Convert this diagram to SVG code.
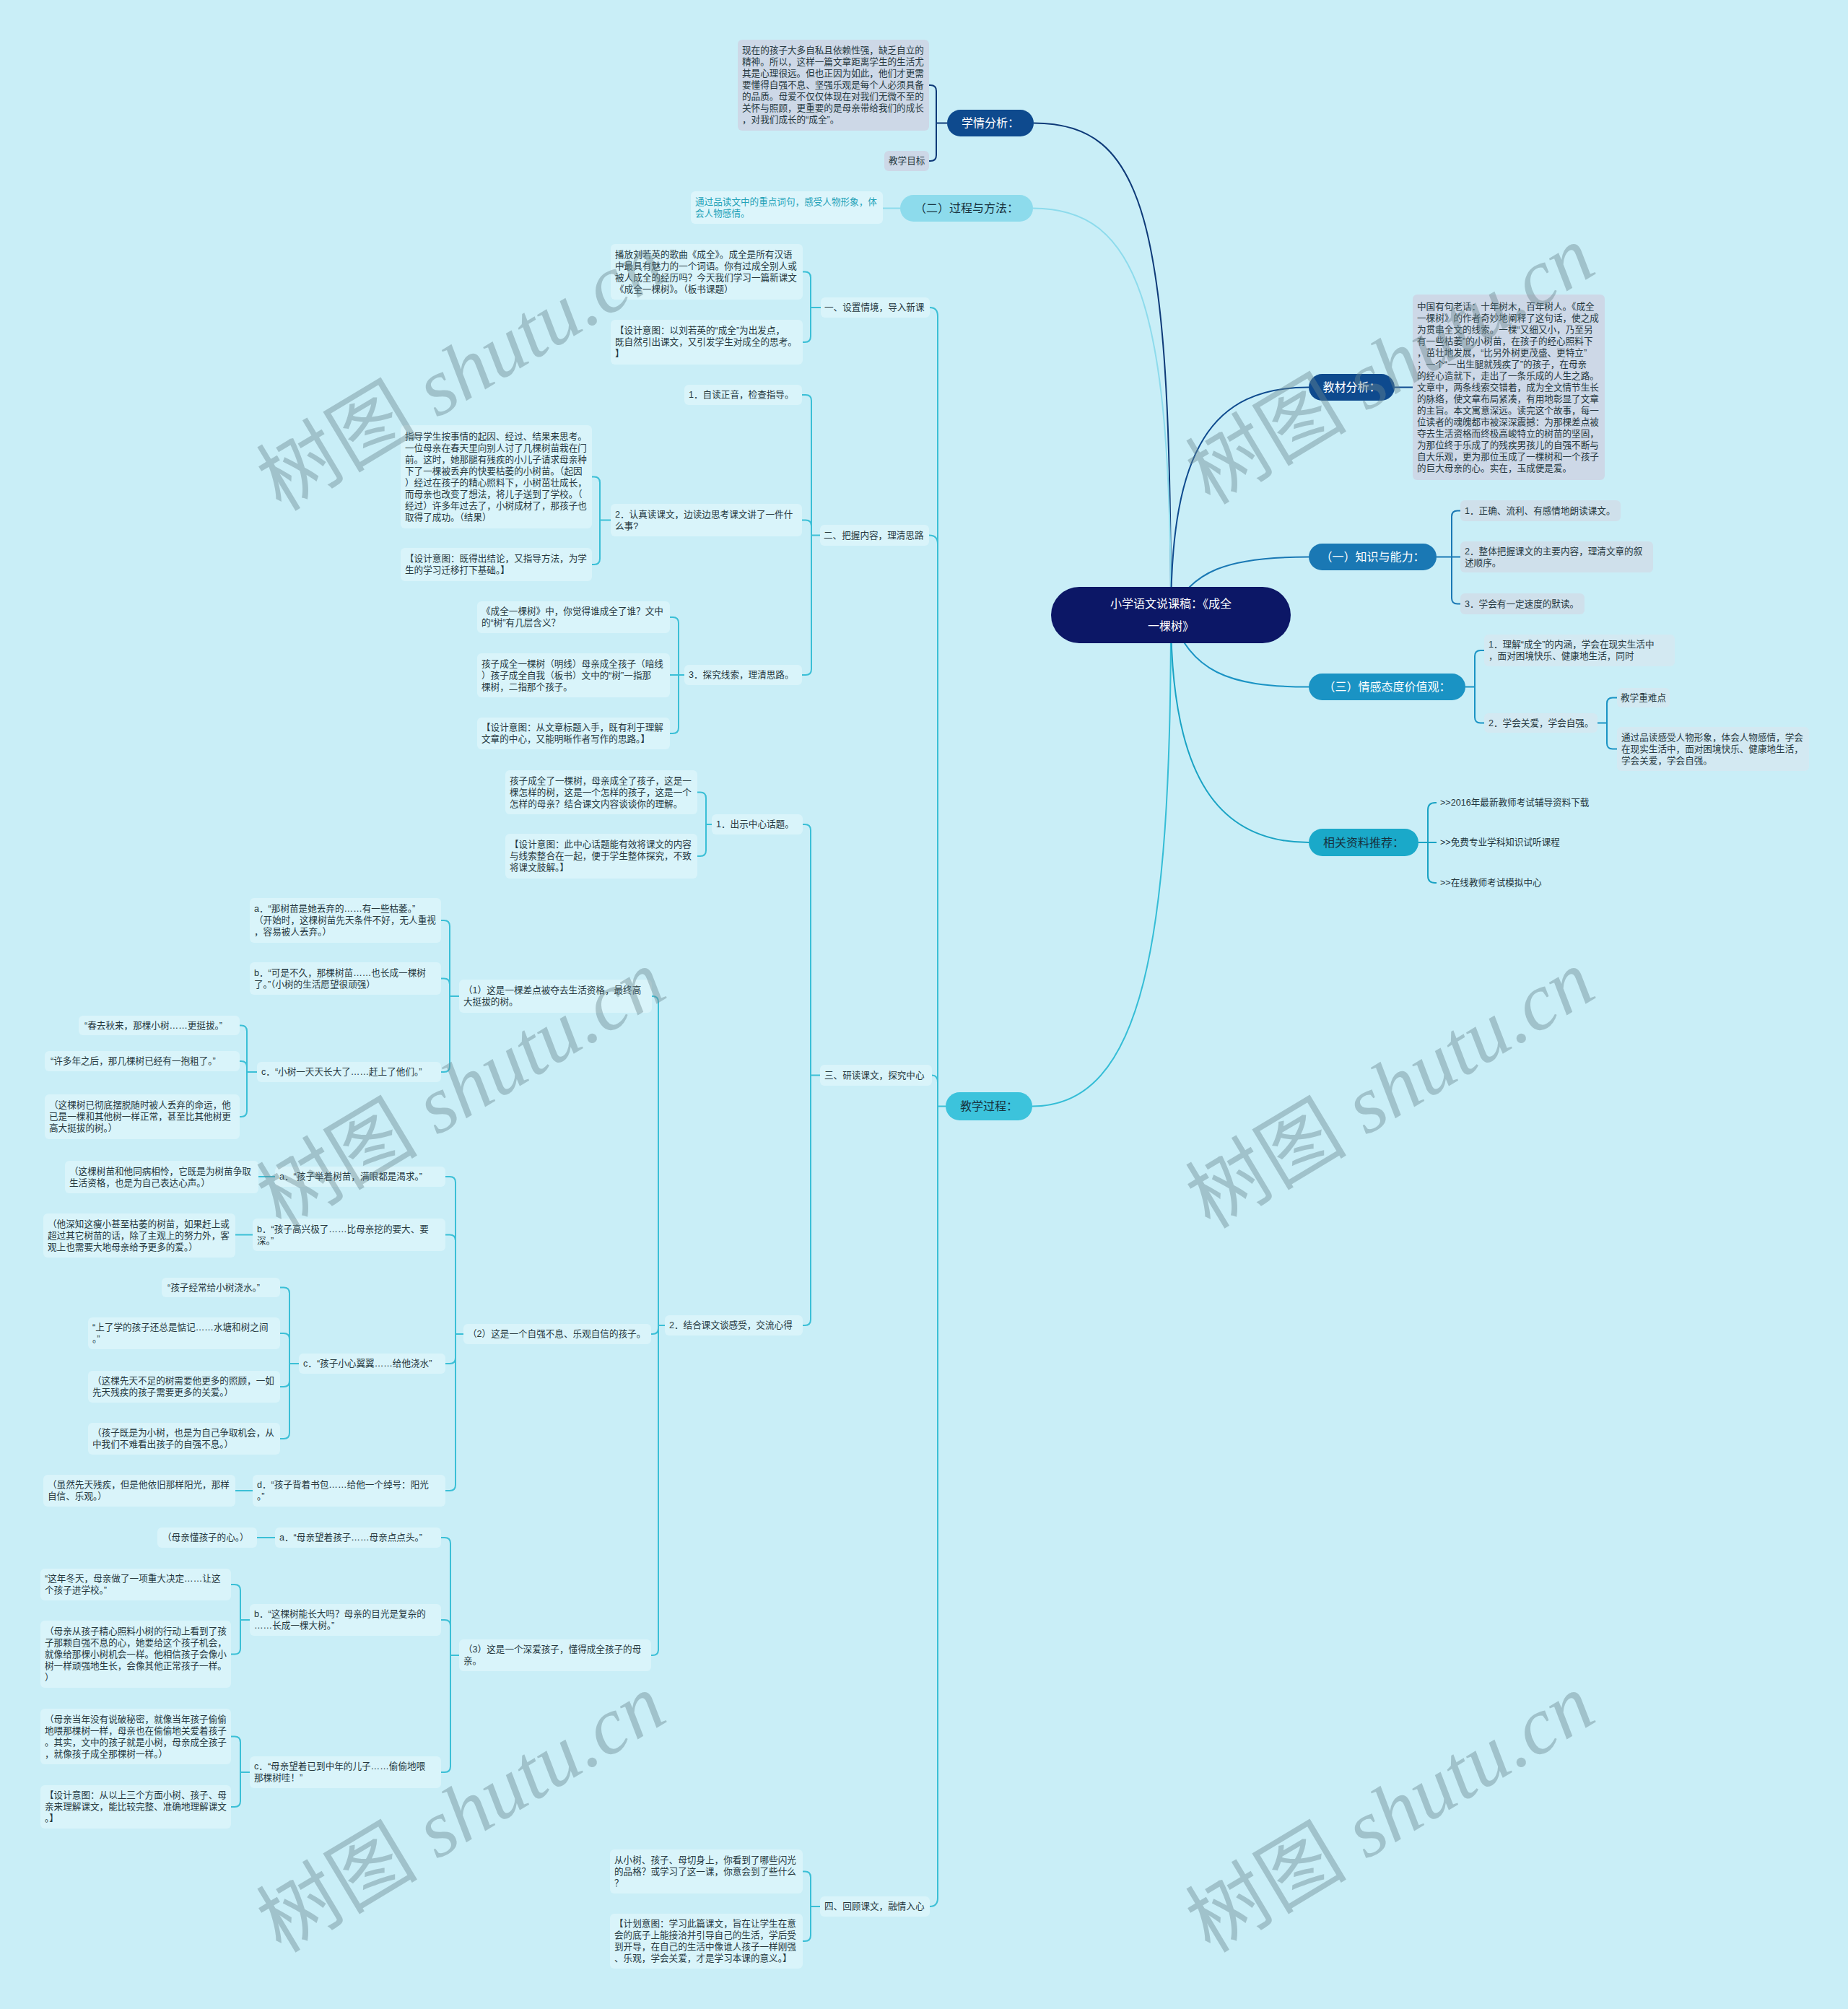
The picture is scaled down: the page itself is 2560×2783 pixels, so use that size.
<svg xmlns="http://www.w3.org/2000/svg" width="2560" height="2783" viewBox="0 0 2560 2783">
<style>
.t{font-family:"Liberation Sans","Noto Sans CJK SC",sans-serif;font-size:12.6px;fill:#26383f;dominant-baseline:central}
.tc{font-family:"Liberation Sans","Noto Sans CJK SC",sans-serif;font-size:12.6px;fill:#23a2b8;dominant-baseline:central}
.n1{font-family:"Liberation Sans","Noto Sans CJK SC",sans-serif;font-size:16px;dominant-baseline:central;text-anchor:middle}
.w{fill:#ffffff}
.d{fill:#17323e}
.bt{fill:#d9f4fa}
.bg{fill:#cdd8e7}
.bk{fill:#cfe0eb}
.be{fill:#d3e9f2}
.c{fill:none;stroke-width:2}
.ct{stroke:#3bbfd6}
.wm{font-family:"Liberation Serif","Noto Sans CJK SC",serif;font-size:112px;fill:#6a878f;opacity:0.42}
</style>
<rect x="0" y="0" width="2560" height="2783" fill="#c9eef7"/>

<g id="connectors">
<path class="c" stroke="#0e3a78" stroke-width="2.5" d="M1432,170.5 C1585,170.5 1622,300 1622,852"/>
<path class="c" stroke="#8ddbec" stroke-width="2.5" d="M1431,288.5 C1575,288.5 1622,420 1622,852"/>
<path class="c" stroke="#35bdd6" stroke-width="2.5" d="M1430,1532.5 C1585,1532.5 1622,1300 1622,852"/>
<path class="c" stroke="#0e4a8e" stroke-width="2.5" d="M1622,852 C1622,620 1680,536.5 1813,536.5"/>
<path class="c" stroke="#1a78b4" stroke-width="2.5" d="M1622,852 C1650,790 1700,771.5 1813,771.5"/>
<path class="c" stroke="#1a93c4" stroke-width="2.5" d="M1622,852 C1650,930 1700,951.5 1813,951.5"/>
<path class="c" stroke="#1aa3c4" stroke-width="2.5" d="M1622,852 C1622,1080 1690,1167 1813,1167"/>

<path class="c" stroke="#0e3a78" d="M1312,170.5 H1297 V126 Q1297,118 1289,118 H1287 M1312,170.5 H1297 V215 Q1297,223 1289,223 H1287"/>
<path class="c" stroke="#8ddbec" d="M1247,288.5 H1223"/>

<path class="c" stroke="#0e4a8e" d="M1932,536.5 H1957"/>
<path class="c" stroke="#1a78b4" d="M1990,771.5 H2011 V715.5 Q2011,707.5 2019,707.5 H2023 M1990,771.5 H2023 M1990,771.5 H2011 V828.5 Q2011,836.5 2019,836.5 H2023"/>
<path class="c" stroke="#1a93c4" d="M2030,951.5 H2043 V909 Q2043,901 2051,901 H2056 M2030,951.5 H2043 V993.5 Q2043,1001.5 2051,1001.5 H2056"/>
<path class="c" stroke="#1a93c4" d="M2213,1001.5 H2226 V974.5 Q2226,966.5 2234,966.5 H2240 M2213,1001.5 H2226 V1029.5 Q2226,1037.5 2234,1037.5 H2240"/>
<path class="c" stroke="#1aa3c4" d="M1965,1167 H1978 V1122 Q1978,1112 1988,1112 H1990 M1965,1167 H1990 M1965,1167 H1978 V1213 Q1978,1223 1988,1223 H1990"/>

<g class="ct">
<path class="c" d="M1310,1532.5 H1299 V438 Q1299,426 1288,426 M1310,1532.5 H1299 V753.5 Q1299,741.5 1287,741.5 M1310,1532.5 H1299 V1499.5 Q1299,1489.5 1291,1489.5 M1310,1532.5 H1299 V2629 Q1299,2641 1288,2641"/>
<path class="c" d="M1137,426 H1123 V384.5 Q1123,376.5 1115,376.5 H1112 M1137,426 H1123 V466 Q1123,474 1115,474 H1112"/>
<path class="c" d="M1136,741.5 H1124 V555 Q1124,547 1116,547 H1111 M1136,741.5 H1124 V728.5 Q1124,720.5 1116,720.5 H1111 M1136,741.5 H1124 V927 Q1124,935 1116,935 H1111"/>
<path class="c" d="M846,720.5 H831 V668.5 Q831,660.5 823,660.5 H820 M846,720.5 H831 V774 Q831,782 823,782 H820"/>
<path class="c" d="M948,935 H940 V863 Q940,855 932,855 H928 M948,935 H928 M948,935 H940 V1008 Q940,1016 932,1016 H928"/>
<path class="c" d="M1136,1489.5 H1123 V1150 Q1123,1142 1115,1142 H1112 M1136,1489.5 H1123 V1828 Q1123,1836 1115,1836 H1112"/>
<path class="c" d="M986,1142 H978 V1105.5 Q978,1097.5 970,1097.5 H966 M986,1142 H978 V1178 Q978,1186 970,1186 H966"/>
<path class="c" d="M921,1836 H912 V1388 Q912,1380 904,1380 H903 M921,1836 H912 V1840 Q912,1848 904,1848 H902 M921,1836 H912 V2285 Q912,2293 904,2293 H902"/>
<path class="c" d="M636,1380 H623 V1283 Q623,1275 615,1275 H611 M636,1380 H623 V1363.5 Q623,1355.5 615,1355.5 H611 M636,1380 H623 V1477 Q623,1485 615,1485 H611"/>
<path class="c" d="M356,1485 H342 V1428.5 Q342,1420.5 334,1420.5 H332 M356,1485 H342 V1478 Q342,1470 334,1470 H332 M356,1485 H342 V1539 Q342,1547 334,1547 H332"/>
<path class="c" d="M642,1848 H631 V1638 Q631,1630 623,1630 H617 M642,1848 H631 V1718.5 Q631,1710.5 623,1710.5 H617 M642,1848 H631 V1881 Q631,1889 623,1889 H617 M642,1848 H631 V2057 Q631,2065 623,2065 H617"/>
<path class="c" d="M381,1630 H358 M350,1710.5 H326 M350,2065 H326"/>
<path class="c" d="M414,1889 H401 V1791.5 Q401,1783.5 393,1783.5 H388 M414,1889 H401 V1855 Q401,1847 393,1847 H388 M414,1889 H401 V1913 Q401,1921 393,1921 H388 M414,1889 H401 V1985 Q401,1993 393,1993 H388"/>
<path class="c" d="M636,2293 H624 V2138 Q624,2130 616,2130 H611 M636,2293 H624 V2252 Q624,2244 616,2244 H611 M636,2293 H624 V2447 Q624,2455 616,2455 H611"/>
<path class="c" d="M381,2130 H356"/>
<path class="c" d="M346,2244 H333 V2203 Q333,2195 325,2195 H320 M346,2244 H333 V2283.5 Q333,2291.5 325,2291.5 H320"/>
<path class="c" d="M346,2455 H333 V2413.5 Q333,2405.5 325,2405.5 H320 M346,2455 H333 V2495 Q333,2503 325,2503 H320"/>
<path class="c" d="M1136,2641 H1123 V2600.5 Q1123,2592.5 1115,2592.5 H1112 M1136,2641 H1123 V2681 Q1123,2689 1115,2689 H1112"/>
</g>
</g>

<g id="root">
<rect x="1456" y="813" width="332" height="78" rx="39" fill="#0c1766"/>
<text class="n1 w" font-size="22" x="1622"><tspan x="1622" y="836">小学语文说课稿：《成全</tspan><tspan x="1622" y="867">一棵树》</tspan></text>
</g>

<g id="xueqing">
<rect x="1312" y="152" width="120" height="37" rx="18.5" fill="#0e4a8e"/>
<text class="n1 w" x="1372" y="170.5">学情分析：</text>
</g>
<g id="xueqing-1"><rect class="bg" x="1022" y="55" width="265" height="126" rx="6"/>
<text class="t" x="1028" y="70"><tspan x="1028">现在的孩子大多自私且依赖性强，缺乏自立的</tspan><tspan x="1028" dy="16">精神。所以，这样一篇文章距离学生的生活尤</tspan><tspan x="1028" dy="16">其是心理很远。但也正因为如此，他们才更需</tspan><tspan x="1028" dy="16">要懂得自强不息、坚强乐观是每个人必须具备</tspan><tspan x="1028" dy="16">的品质。母爱不仅仅体现在对我们无微不至的</tspan><tspan x="1028" dy="16">关怀与照顾，更重要的是母亲带给我们的成长</tspan><tspan x="1028" dy="16">，对我们成长的“成全”。</tspan></text></g>
<g id="xueqing-2"><rect class="bg" x="1225" y="209" width="62" height="28" rx="6"/><text class="t" x="1231" y="223">教学目标</text></g>

<g id="guocheng">
<rect x="1247" y="270" width="184" height="37" rx="18.5" fill="#8ddbec"/>
<text class="n1 d" x="1339" y="288.5">（二）过程与方法：</text>
</g>
<g id="guocheng-1"><rect x="957" y="265" width="266" height="45" rx="6" fill="#dcf5fb"/>
<text class="tc" x="963" y="279.5"><tspan x="963">通过品读文中的重点词句，感受人物形象，体</tspan><tspan x="963" dy="16">会人物感情。</tspan></text></g>

<g id="jiaoxue">
<rect x="1310" y="1513" width="120" height="39" rx="19.5" fill="#3cc3dc"/>
<text class="n1 d" x="1370" y="1532.5">教学过程：</text>
</g>

<g id="s1"><rect class="bt" x="1137" y="412" width="151" height="28" rx="6"/><text class="t" x="1142" y="426">一、设置情境，导入新课</text></g>
<g id="s1-1"><rect class="bt" x="846" y="338" width="266" height="77" rx="6"/>
<text class="t" x="852" y="352.5"><tspan x="852">播放刘若英的歌曲《成全》。成全是所有汉语</tspan><tspan x="852" dy="16">中最具有魅力的一个词语。你有过成全别人或</tspan><tspan x="852" dy="16">被人成全的经历吗？今天我们学习一篇新课文</tspan><tspan x="852" dy="16">《成全一棵树》。（板书课题）</tspan></text></g>
<g id="s1-2"><rect class="bt" x="846" y="443" width="266" height="62" rx="6"/>
<text class="t" x="852" y="458"><tspan x="852">【设计意图：以刘若英的“成全”为出发点，</tspan><tspan x="852" dy="16">既自然引出课文，又引发学生对成全的思考。</tspan><tspan x="852" dy="16">】</tspan></text></g>

<g id="s2"><rect class="bt" x="1136" y="727" width="151" height="29" rx="6"/><text class="t" x="1141" y="741.5">二、把握内容，理清思路</text></g>
<g id="s2-1"><rect class="bt" x="948" y="533" width="163" height="28" rx="6"/><text class="t" x="954" y="547">1．自读正音，检查指导。</text></g>
<g id="s2-2"><rect class="bt" x="846" y="698" width="265" height="45" rx="6"/>
<text class="t" x="852" y="712.5"><tspan x="852">2．认真读课文，边读边思考课文讲了一件什</tspan><tspan x="852" dy="16">么事?</tspan></text></g>
<g id="s2-2a"><rect class="bt" x="555" y="589" width="265" height="143" rx="6"/>
<text class="t" x="561" y="604.5"><tspan x="561">指导学生按事情的起因、经过、结果来思考。</tspan><tspan x="561" dy="16">一位母亲在春天里向别人讨了几棵树苗栽在门</tspan><tspan x="561" dy="16">前。这时，她那腿有残疾的小儿子请求母亲种</tspan><tspan x="561" dy="16">下了一棵被丢弃的快要枯萎的小树苗。（起因</tspan><tspan x="561" dy="16">）经过在孩子的精心照料下，小树茁壮成长，</tspan><tspan x="561" dy="16">而母亲也改变了想法，将儿子送到了学校。（</tspan><tspan x="561" dy="16">经过）许多年过去了，小树成材了，那孩子也</tspan><tspan x="561" dy="16">取得了成功。（结果）</tspan></text></g>
<g id="s2-2b"><rect class="bt" x="555" y="759" width="265" height="46" rx="6"/>
<text class="t" x="561" y="774"><tspan x="561">【设计意图：既得出结论，又指导方法，为学</tspan><tspan x="561" dy="16">生的学习迁移打下基础。】</tspan></text></g>
<g id="s2-3"><rect class="bt" x="948" y="921" width="163" height="28" rx="6"/><text class="t" x="954" y="935">3．探究线索，理清思路。</text></g>
<g id="s2-3a"><rect class="bt" x="661" y="833" width="267" height="44" rx="6"/>
<text class="t" x="667" y="847"><tspan x="667">《成全一棵树》中，你觉得谁成全了谁？文中</tspan><tspan x="667" dy="16">的“树”有几层含义？</tspan></text></g>
<g id="s2-3b"><rect class="bt" x="661" y="905" width="267" height="61" rx="6"/>
<text class="t" x="667" y="919.5"><tspan x="667">孩子成全一棵树（明线）母亲成全孩子（暗线</tspan><tspan x="667" dy="16">）孩子成全自我（板书）文中的“树”一指那</tspan><tspan x="667" dy="16">棵树，二指那个孩子。</tspan></text></g>
<g id="s2-3c"><rect class="bt" x="661" y="994" width="267" height="44" rx="6"/>
<text class="t" x="667" y="1008"><tspan x="667">【设计意图：从文章标题入手，既有利于理解</tspan><tspan x="667" dy="16">文章的中心，又能明晰作者写作的思路。】</tspan></text></g>

<g id="s3"><rect class="bt" x="1136" y="1475" width="155" height="29" rx="6"/><text class="t" x="1142" y="1489.5">三、研读课文，探究中心</text></g>
<g id="s3-1"><rect class="bt" x="986" y="1128" width="126" height="28" rx="6"/><text class="t" x="992" y="1142">1．出示中心话题。</text></g>
<g id="s3-1a"><rect class="bt" x="700" y="1067" width="266" height="61" rx="6"/>
<text class="t" x="706" y="1081.5"><tspan x="706">孩子成全了一棵树，母亲成全了孩子，这是一</tspan><tspan x="706" dy="16">棵怎样的树，这是一个怎样的孩子，这是一个</tspan><tspan x="706" dy="16">怎样的母亲？结合课文内容谈谈你的理解。</tspan></text></g>
<g id="s3-1b"><rect class="bt" x="700" y="1155" width="266" height="62" rx="6"/>
<text class="t" x="706" y="1170"><tspan x="706">【设计意图：此中心话题能有效将课文的内容</tspan><tspan x="706" dy="16">与线索整合在一起，便于学生整体探究，不致</tspan><tspan x="706" dy="16">将课文肢解。】</tspan></text></g>
<g id="s3-2"><rect class="bt" x="921" y="1822" width="191" height="28" rx="6"/><text class="t" x="927" y="1836">2．结合课文谈感受，交流心得</text></g>

<g id="p1"><rect class="bt" x="636" y="1357" width="267" height="46" rx="6"/>
<text class="t" x="642" y="1372"><tspan x="642">（1）这是一棵差点被夺去生活资格，最终高</tspan><tspan x="642" dy="16">大挺拔的树。</tspan></text></g>
<g id="p1-a"><rect class="bt" x="346" y="1244" width="265" height="62" rx="6"/>
<text class="t" x="352" y="1259"><tspan x="352">a．“那树苗是她丢弃的……有一些枯萎。”</tspan><tspan x="352" dy="16">（开始时，这棵树苗先天条件不好，无人重视</tspan><tspan x="352" dy="16">，容易被人丢弃。）</tspan></text></g>
<g id="p1-b"><rect class="bt" x="346" y="1333" width="265" height="45" rx="6"/>
<text class="t" x="352" y="1347.5"><tspan x="352">b．“可是不久，那棵树苗……也长成一棵树</tspan><tspan x="352" dy="16">了。”（小树的生活愿望很顽强）</tspan></text></g>
<g id="p1-c"><rect class="bt" x="356" y="1471" width="255" height="28" rx="6"/><text class="t" x="362" y="1485">c．“小树一天天长大了……赶上了他们。”</text></g>
<g id="p1-c1"><rect class="bt" x="109" y="1407" width="223" height="27" rx="6"/><text class="t" x="117" y="1420.5">“春去秋来，那棵小树……更挺拔。”</text></g>
<g id="p1-c2"><rect class="bt" x="62" y="1456" width="270" height="28" rx="6"/><text class="t" x="70" y="1470">“许多年之后，那几棵树已经有一抱粗了。”</text></g>
<g id="p1-c3"><rect class="bt" x="62" y="1516" width="270" height="62" rx="6"/>
<text class="t" x="68" y="1531"><tspan x="68">（这棵树已彻底摆脱随时被人丢弃的命运，他</tspan><tspan x="68" dy="16">已是一棵和其他树一样正常，甚至比其他树更</tspan><tspan x="68" dy="16">高大挺拔的树。）</tspan></text></g>

<g id="p2"><rect class="bt" x="642" y="1834" width="260" height="28" rx="6"/><text class="t" x="648" y="1848">（2）这是一个自强不息、乐观自信的孩子。</text></g>
<g id="p2-a"><rect class="bt" x="381" y="1616" width="236" height="28" rx="6"/><text class="t" x="387" y="1630">a．“孩子举着树苗，满眼都是渴求。”</text></g>
<g id="p2-a1"><rect class="bt" x="90" y="1608" width="268" height="45" rx="6"/>
<text class="t" x="96" y="1622.5"><tspan x="96">（这棵树苗和他同病相怜，它既是为树苗争取</tspan><tspan x="96" dy="16">生活资格，也是为自己表达心声。）</tspan></text></g>
<g id="p2-b"><rect class="bt" x="350" y="1688" width="267" height="45" rx="6"/>
<text class="t" x="356" y="1702.5"><tspan x="356">b．“孩子高兴极了……比母亲挖的要大、要</tspan><tspan x="356" dy="16">深。”</tspan></text></g>
<g id="p2-b1"><rect class="bt" x="60" y="1681" width="266" height="61" rx="6"/>
<text class="t" x="66" y="1695.5"><tspan x="66">（他深知这瘦小甚至枯萎的树苗，如果赶上或</tspan><tspan x="66" dy="16">超过其它树苗的话，除了主观上的努力外，客</tspan><tspan x="66" dy="16">观上也需要大地母亲给予更多的爱。）</tspan></text></g>
<g id="p2-c"><rect class="bt" x="414" y="1875" width="203" height="28" rx="6"/><text class="t" x="420" y="1889">c．“孩子小心翼翼……给他浇水”</text></g>
<g id="p2-c1"><rect class="bt" x="224" y="1770" width="164" height="27" rx="6"/><text class="t" x="232" y="1783.5">“孩子经常给小树浇水。”</text></g>
<g id="p2-c2"><rect class="bt" x="122" y="1825" width="266" height="44" rx="6"/>
<text class="t" x="128" y="1839"><tspan x="128">“上了学的孩子还总是惦记……水塘和树之间</tspan><tspan x="128" dy="16">。”</tspan></text></g>
<g id="p2-c3"><rect class="bt" x="122" y="1899" width="266" height="44" rx="6"/>
<text class="t" x="128" y="1913"><tspan x="128">（这棵先天不足的树需要他更多的照顾，一如</tspan><tspan x="128" dy="16">先天残疾的孩子需要更多的关爱。）</tspan></text></g>
<g id="p2-c4"><rect class="bt" x="122" y="1971" width="266" height="44" rx="6"/>
<text class="t" x="128" y="1985"><tspan x="128">（孩子既是为小树，也是为自己争取机会，从</tspan><tspan x="128" dy="16">中我们不难看出孩子的自强不息。）</tspan></text></g>
<g id="p2-d"><rect class="bt" x="350" y="2043" width="267" height="44" rx="6"/>
<text class="t" x="356" y="2057"><tspan x="356">d．“孩子背着书包……给他一个绰号：阳光</tspan><tspan x="356" dy="16">。”</tspan></text></g>
<g id="p2-d1"><rect class="bt" x="60" y="2043" width="266" height="44" rx="6"/>
<text class="t" x="66" y="2057"><tspan x="66">（虽然先天残疾，但是他依旧那样阳光，那样</tspan><tspan x="66" dy="16">自信、乐观。）</tspan></text></g>

<g id="p3"><rect class="bt" x="636" y="2271" width="266" height="44" rx="6"/>
<text class="t" x="642" y="2285"><tspan x="642">（3）这是一个深爱孩子，懂得成全孩子的母</tspan><tspan x="642" dy="16">亲。</tspan></text></g>
<g id="p3-a"><rect class="bt" x="381" y="2116" width="230" height="28" rx="6"/><text class="t" x="387" y="2130">a．“母亲望着孩子……母亲点点头。”</text></g>
<g id="p3-a1"><rect class="bt" x="218" y="2116" width="138" height="28" rx="6"/><text class="t" x="225" y="2130">（母亲懂孩子的心。）</text></g>
<g id="p3-b"><rect class="bt" x="346" y="2222" width="265" height="44" rx="6"/>
<text class="t" x="352" y="2236"><tspan x="352">b．“这棵树能长大吗？母亲的目光是复杂的</tspan><tspan x="352" dy="16">……长成一棵大树。”</tspan></text></g>
<g id="p3-b1"><rect class="bt" x="56" y="2173" width="264" height="44" rx="6"/>
<text class="t" x="62" y="2187"><tspan x="62">“这年冬天，母亲做了一项重大决定……让这</tspan><tspan x="62" dy="16">个孩子进学校。”</tspan></text></g>
<g id="p3-b2"><rect class="bt" x="56" y="2245" width="264" height="93" rx="6"/>
<text class="t" x="62" y="2259.5"><tspan x="62">（母亲从孩子精心照料小树的行动上看到了孩</tspan><tspan x="62" dy="16">子那颗自强不息的心，她要给这个孩子机会，</tspan><tspan x="62" dy="16">就像给那棵小树机会一样。他相信孩子会像小</tspan><tspan x="62" dy="16">树一样顽强地生长，会像其他正常孩子一样。</tspan><tspan x="62" dy="16">）</tspan></text></g>
<g id="p3-c"><rect class="bt" x="346" y="2433" width="265" height="44" rx="6"/>
<text class="t" x="352" y="2447"><tspan x="352">c．“母亲望着已到中年的儿子……偷偷地喂</tspan><tspan x="352" dy="16">那棵树哇！”</tspan></text></g>
<g id="p3-c1"><rect class="bt" x="56" y="2367" width="264" height="77" rx="6"/>
<text class="t" x="62" y="2381.5"><tspan x="62">（母亲当年没有说破秘密，就像当年孩子偷偷</tspan><tspan x="62" dy="16">地喂那棵树一样，母亲也在偷偷地关爱着孩子</tspan><tspan x="62" dy="16">。其实，文中的孩子就是小树，母亲成全孩子</tspan><tspan x="62" dy="16">，就像孩子成全那棵树一样。）</tspan></text></g>
<g id="p3-c2"><rect class="bt" x="56" y="2473" width="264" height="60" rx="6"/>
<text class="t" x="62" y="2487"><tspan x="62">【设计意图：从以上三个方面小树、孩子、母</tspan><tspan x="62" dy="16">亲来理解课文，能比较完整、准确地理解课文</tspan><tspan x="62" dy="16">。】</tspan></text></g>

<g id="s4"><rect class="bt" x="1136" y="2627" width="152" height="28" rx="6"/><text class="t" x="1142" y="2641">四、回顾课文，融情入心</text></g>
<g id="s4-1"><rect class="bt" x="845" y="2562" width="267" height="61" rx="6"/>
<text class="t" x="851" y="2576.5"><tspan x="851">从小树、孩子、母切身上，你看到了哪些闪光</tspan><tspan x="851" dy="16">的品格？或学习了这一课，你意会到了些什么</tspan><tspan x="851" dy="16">？</tspan></text></g>
<g id="s4-2"><rect class="bt" x="845" y="2651" width="267" height="76" rx="6"/>
<text class="t" x="851" y="2665"><tspan x="851">【计划意图：学习此篇课文，旨在让学生在意</tspan><tspan x="851" dy="16">会的底子上能接洽并引导自己的生活，学后受</tspan><tspan x="851" dy="16">到开导，在自己的生活中像谁人孩子一样刚强</tspan><tspan x="851" dy="16">、乐观，学会关爱，才是学习本课的意义。】</tspan></text></g>

<g id="jiaocai">
<rect x="1813" y="518" width="119" height="37" rx="18.5" fill="#0e4a8e"/>
<text class="n1 w" x="1872.5" y="536.5">教材分析：</text>
</g>
<g id="jiaocai-1"><rect class="bg" x="1957" y="408" width="266" height="257" rx="6"/>
<text class="t" x="1963" y="424.5"><tspan x="1963">中国有句老话：十年树木，百年树人。《成全</tspan><tspan x="1963" dy="16">一棵树》的作者奇妙地阐释了这句话，使之成</tspan><tspan x="1963" dy="16">为贯串全文的线索。一棵“又细又小，乃至另</tspan><tspan x="1963" dy="16">有一些枯萎”的小树苗，在孩子的经心照料下</tspan><tspan x="1963" dy="16">，茁壮地发展，“比另外树更茂盛、更特立”</tspan><tspan x="1963" dy="16">；一个“一出生腿就残疾了”的孩子，在母亲</tspan><tspan x="1963" dy="16">的经心造就下，走出了一条乐成的人生之路。</tspan><tspan x="1963" dy="16">文章中，两条线索交错着，成为全文情节生长</tspan><tspan x="1963" dy="16">的脉络，使文章布局紧凑，有用地彰显了文章</tspan><tspan x="1963" dy="16">的主旨。本文寓意深远。读完这个故事，每一</tspan><tspan x="1963" dy="16">位读者的魂魄都市被深深震撼：为那棵差点被</tspan><tspan x="1963" dy="16">夺去生活资格而终极高峻特立的树苗的坚固，</tspan><tspan x="1963" dy="16">为那位终于乐成了的残疾男孩儿的自强不断与</tspan><tspan x="1963" dy="16">自大乐观，更为那位玉成了一棵树和一个孩子</tspan><tspan x="1963" dy="16">的巨大母亲的心。实在，玉成便是爱。</tspan></text></g>

<g id="zhishi">
<rect x="1813" y="753" width="177" height="37" rx="18.5" fill="#1a78b4"/>
<text class="n1 w" x="1901.5" y="771.5">（一）知识与能力：</text>
</g>
<g id="zhishi-1"><rect class="bk" x="2023" y="693" width="222" height="29" rx="6"/><text class="t" x="2029" y="707.5">1．正确、流利、有感情地朗读课文。</text></g>
<g id="zhishi-2"><rect class="bk" x="2023" y="750" width="267" height="43" rx="6"/>
<text class="t" x="2029" y="763.5"><tspan x="2029">2．整体把握课文的主要内容，理清文章的叙</tspan><tspan x="2029" dy="16">述顺序。</tspan></text></g>
<g id="zhishi-3"><rect class="bk" x="2023" y="822" width="172" height="29" rx="6"/><text class="t" x="2029" y="836.5">3．学会有一定速度的默读。</text></g>

<g id="qinggan">
<rect x="1813" y="933" width="217" height="37" rx="18.5" fill="#1a93c4"/>
<text class="n1 w" x="1921.5" y="951.5">（三）情感态度价值观：</text>
</g>
<g id="qinggan-1"><rect class="be" x="2056" y="879" width="264" height="44" rx="6"/>
<text class="t" x="2062" y="893"><tspan x="2062">1．理解“成全”的内涵，学会在现实生活中</tspan><tspan x="2062" dy="16">，面对困境快乐、健康地生活，同时</tspan></text></g>
<g id="qinggan-2"><rect class="be" x="2056" y="988" width="157" height="27" rx="6"/><text class="t" x="2062" y="1001.5">2．学会关爱，学会自强。</text></g>
<g id="qinggan-2a"><rect class="be" x="2240" y="953" width="73" height="27" rx="6"/><text class="t" x="2245" y="966.5">教学重难点</text></g>
<g id="qinggan-2b"><rect class="be" x="2240" y="1007" width="266" height="61" rx="6"/>
<text class="t" x="2246" y="1021.5"><tspan x="2246">通过品读感受人物形象，体会人物感情，学会</tspan><tspan x="2246" dy="16">在现实生活中，面对困境快乐、健康地生活，</tspan><tspan x="2246" dy="16">学会关爱，学会自强。</tspan></text></g>

<g id="xiangguan">
<rect x="1813" y="1148" width="152" height="38" rx="19" fill="#1aa9c9"/>
<text class="n1 d" x="1889" y="1167">相关资料推荐：</text>
</g>
<g id="xiangguan-1"><text class="t" x="1995" y="1112">&gt;&gt;2016年最新教师考试辅导资料下载</text></g>
<g id="xiangguan-2"><text class="t" x="1995" y="1167">&gt;&gt;免费专业学科知识试听课程</text></g>
<g id="xiangguan-3"><text class="t" x="1995" y="1223">&gt;&gt;在线教师考试模拟中心</text></g>

<g id="watermarks">
<text class="wm" text-anchor="middle" transform="translate(639,515) rotate(-31)" dominant-baseline="central">树图 <tspan font-style="italic">shutu.cn</tspan></text>
<text class="wm" text-anchor="middle" transform="translate(1926,506) rotate(-31)" dominant-baseline="central">树图 <tspan font-style="italic">shutu.cn</tspan></text>
<text class="wm" text-anchor="middle" transform="translate(639,1509) rotate(-31)" dominant-baseline="central">树图 <tspan font-style="italic">shutu.cn</tspan></text>
<text class="wm" text-anchor="middle" transform="translate(1926,1509) rotate(-31)" dominant-baseline="central">树图 <tspan font-style="italic">shutu.cn</tspan></text>
<text class="wm" text-anchor="middle" transform="translate(639,2512) rotate(-31)" dominant-baseline="central">树图 <tspan font-style="italic">shutu.cn</tspan></text>
<text class="wm" text-anchor="middle" transform="translate(1926,2512) rotate(-31)" dominant-baseline="central">树图 <tspan font-style="italic">shutu.cn</tspan></text>
</g>
</svg>
